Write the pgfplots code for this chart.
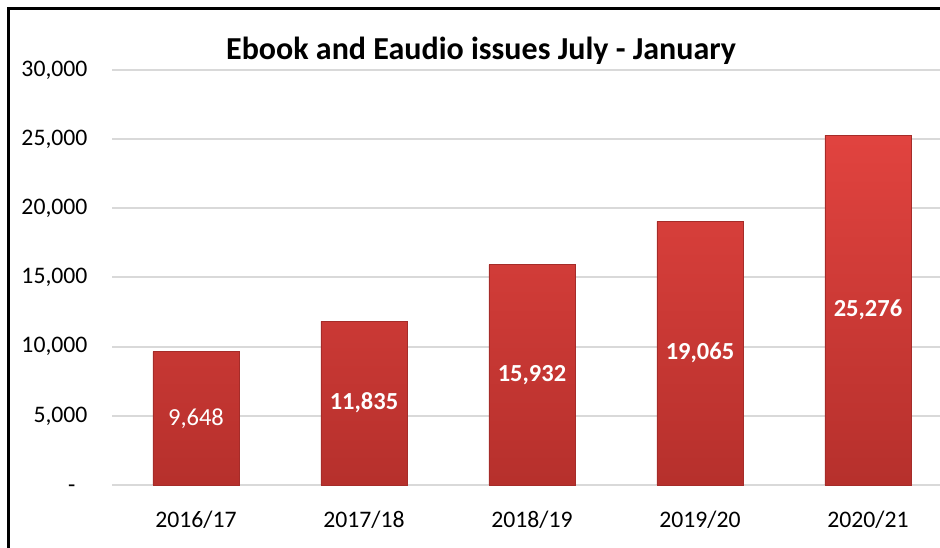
\documentclass[border=0pt]{standalone}
\usepackage{fontspec}
\setmainfont{Carlito}
\usepackage{pgfplots}
\usepackage{pgfplotstable}
\pgfplotsset{compat=1.18}
\definecolor{gridgray}{RGB}{217,217,217}
\definecolor{bartop}{RGB}{225,67,63}
\definecolor{barbot}{RGB}{182,48,44}
\definecolor{baredge}{RGB}{165,44,41}
\pgfplotstableread{
x y label
0 9648 \textmd{9,648}
1 11835 11,835
2 15932 15,932
3 19065 19,065
4 25276 25,276
}\data
\begin{document}
\begin{tikzpicture}[x=1pt,y=1pt]
\useasboundingbox (0,0) rectangle (940,548);
\draw[line width=3pt] (8.5,0) -- (8.5,539) -- (940,539);
\node[font=\fontsize{32}{38}\selectfont\bfseries] at (481,497) {Ebook and Eaudio issues July - January};
\begin{axis}[
  at={(112pt,63pt)}, anchor=south west,
  scale only axis, width=828pt, height=415pt,
  xmin=-0.5, xmax=4.4286, ymin=0, ymax=30000,
  scaled y ticks=false,
  axis line style={draw=none},
  tick style={draw=none},
  ymajorgrids, grid style={gridgray, line width=2pt},
  xtick={0,1,2,3,4},
  xticklabels={2016/17,2017/18,2018/19,2019/20,2020/21},
  ytick={0,5000,10000,15000,20000,25000,30000},
  yticklabels={{-\phantom{0}},{5,000},{10,000},{15,000},{20,000},{25,000},{30,000}},
  major tick length=0pt,
  tick label style={font=\fontsize{23.7}{28}\selectfont},
  yticklabel style={anchor=east, xshift=-21pt},
  xticklabel style={anchor=north, yshift=-23pt},
  clip=false,
]
\addplot[ybar, bar width=0.512, draw=baredge, line width=0.6pt,
  top color=bartop, bottom color=barbot,
  point meta=explicit symbolic,
  visualization depends on={y \as \rawy},
  nodes near coords,
  every node near coord/.append style={anchor=center, text=white,
     font=\fontsize{24.5}{29}\selectfont\bfseries,
     shift={(axis direction cs:0,-\rawy/2)}},
] table[x=x, y=y, meta=label] {\data};
\end{axis}
\end{tikzpicture}
\end{document}
